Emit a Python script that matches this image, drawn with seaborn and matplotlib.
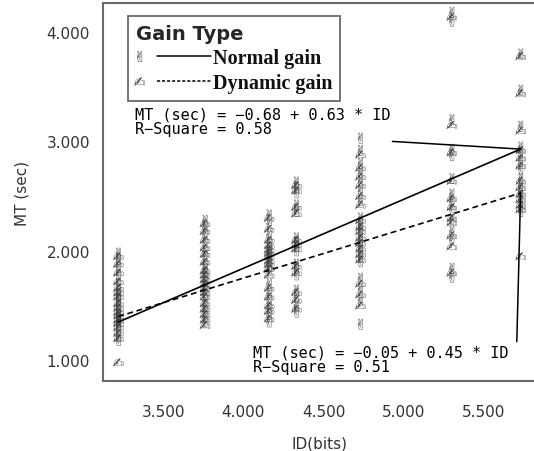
import numpy as np
import pandas as pd
import matplotlib
matplotlib.use("Agg")
import matplotlib.pyplot as plt
import seaborn as sns
from matplotlib.lines import Line2D
from matplotlib.legend_handler import HandlerBase
from matplotlib.ticker import FormatStrFormatter

# ---------------- data ----------------
id_levels = [3.22, 3.76, 4.16, 4.33, 4.73, 5.30, 5.73]

normal_mt = [
    [1.98, 1.92, 1.85, 1.78, 1.70, 1.65, 1.60, 1.57, 1.55, 1.50, 1.46, 1.42, 1.40, 1.38, 1.35, 1.32, 1.28, 1.22, 1.18],
    [2.28, 2.22, 2.15, 2.08, 2.00, 1.95, 1.88, 1.84, 1.80, 1.76, 1.72, 1.68, 1.65, 1.60, 1.55, 1.50, 1.45, 1.40, 1.35],
    [2.33, 2.25, 2.15, 2.08, 2.03, 2.00, 1.97, 1.93, 1.90, 1.86, 1.82, 1.70, 1.62, 1.55, 1.48, 1.42, 1.35],
    [2.63, 2.58, 2.53, 2.42, 2.36, 2.12, 2.08, 2.04, 2.00, 1.88, 1.84, 1.78, 1.64, 1.58, 1.50, 1.44],
    [3.03, 2.92, 2.80, 2.72, 2.64, 2.55, 2.46, 2.30, 2.25, 2.20, 2.15, 2.10, 2.05, 2.00, 1.95, 1.90, 1.75, 1.65, 1.55, 1.33],
    [4.18, 4.10, 3.20, 2.93, 2.87, 2.66, 2.52, 2.45, 2.38, 2.29, 2.18, 2.10, 1.84, 1.76],
    [3.80, 3.47, 3.14, 2.95, 2.90, 2.82, 2.75, 2.66, 2.60, 2.55, 2.50, 2.45, 2.40, 2.36],
]
dynamic_mt = [
    [1.95, 1.88, 1.80, 1.72, 1.66, 1.62, 1.58, 1.52, 1.48, 1.44, 1.41, 1.37, 1.34, 1.30, 1.25, 1.20, 0.98],
    [2.25, 2.18, 2.10, 2.03, 1.97, 1.90, 1.82, 1.78, 1.74, 1.70, 1.66, 1.62, 1.58, 1.52, 1.47, 1.42, 1.37, 1.32],
    [2.30, 2.20, 2.10, 2.05, 2.01, 1.98, 1.95, 1.91, 1.88, 1.84, 1.78, 1.66, 1.58, 1.50, 1.45, 1.38],
    [2.60, 2.55, 2.40, 2.34, 2.10, 2.06, 2.02, 1.86, 1.80, 1.62, 1.55, 1.47],
    [2.88, 2.76, 2.68, 2.60, 2.50, 2.42, 2.28, 2.22, 2.18, 2.12, 2.07, 2.02, 1.97, 1.92, 1.70, 1.60, 1.50],
    [4.14, 3.15, 2.90, 2.64, 2.48, 2.40, 2.30, 2.26, 2.14, 2.04, 1.80],
    [3.78, 3.44, 3.10, 2.92, 2.85, 2.78, 2.64, 2.58, 2.52, 2.47, 2.42, 2.38, 1.95],
]

groups = ["Normal gain", "Dynamic gain"]
fit_intercepts = [-0.68, -0.05]
fit_slopes = [0.63, 0.45]
fit_labels = ["MT (sec) = \u22120.68 + 0.63 * ID\nR\u2212Square = 0.58",
              "MT (sec) = \u22120.05 + 0.45 * ID\nR\u2212Square = 0.51"]

x_ticks = [3.5, 4.0, 4.5, 5.0, 5.5]
y_ticks = [1.0, 2.0, 3.0, 4.0]

# ---------------- build table ----------------
rows = []
for g, table in zip(groups, [normal_mt, dynamic_mt]):
    for idv, vals in zip(id_levels, table):
        for v in vals:
            rows.append({"ID": idv, "MT": v, "Gain Type": g})
df = pd.DataFrame(rows)

# ---------------- plot ----------------
sns.set_style("white")
plt.rcParams["font.family"] = ["DejaVu Sans"]

fig = plt.figure(figsize=(5.34, 4.52), dpi=100)
ax = fig.add_axes([0.193, 0.155, 0.812, 0.836])

mark_col = "#3c3c3c"
markers = {"Normal gain": "$\u270c$", "Dynamic gain": "$\u270d$"}
sns.scatterplot(data=df, x="ID", y="MT", hue="Gain Type", style="Gain Type",
                markers=markers, palette={"Normal gain": mark_col, "Dynamic gain": mark_col},
                s=60, linewidth=0, legend=False, ax=ax, zorder=2)

xfit = np.array([min(id_levels), max(id_levels)])
styles = ["-", (0, (3.5, 2.2))]
for b0, b1, ls in zip(fit_intercepts, fit_slopes, styles):
    ax.plot(xfit, b0 + b1 * xfit, color="black", lw=1.2, linestyle=ls, zorder=3)

# annotations with leader lines
x_end = max(id_levels)
n_end = fit_intercepts[0] + fit_slopes[0] * x_end
d_end = fit_intercepts[1] + fit_slopes[1] * x_end
ax.text(3.325, 3.32, fit_labels[0], ha="left", va="top", fontsize=11,
        family="DejaVu Sans Mono", linespacing=0.95, color="black")
ax.plot([4.93, x_end], [3.0, n_end], color="black", lw=1.1)
ax.text(4.06, 1.145, fit_labels[1], ha="left", va="top", fontsize=11,
        family="DejaVu Sans Mono", linespacing=0.95, color="black")
ax.plot([x_end, 5.706], [d_end, 1.17], color="black", lw=1.1)

ax.set_xlim(3.125, 5.83)
ax.set_ylim(0.81, 4.265)
ax.set_xticks(x_ticks)
ax.set_yticks(y_ticks)
ax.xaxis.set_major_formatter(FormatStrFormatter("%.3f"))
ax.yaxis.set_major_formatter(FormatStrFormatter("%.3f"))
ax.tick_params(axis="both", which="major", direction="out", length=5.5, width=2.2,
               color="black", labelsize=11, labelcolor="#333333")
ax.tick_params(axis="x", pad=11)
ax.tick_params(axis="y", pad=4)
for sp in ax.spines.values():
    sp.set_color("#6a6a6a")
    sp.set_linewidth(1.5)
ax.set_xlabel("ID(bits)", fontsize=11, color="#333333", labelpad=12)
ax.set_ylabel("MT (sec)", fontsize=11, color="#333333", labelpad=12)


class MarkerLineHandler(HandlerBase):
    def create_artists(self, legend, orig_handle, xdescent, ydescent,
                       width, height, fontsize, trans):
        mk, ls = orig_handle
        y = height / 2 - ydescent
        m = Line2D([0.04 * width - xdescent], [y], marker=mk, markersize=8,
                   color=mark_col, markeredgewidth=0, linestyle="none")
        l = Line2D([0.28 * width - xdescent, width - xdescent], [y, y],
                   color="black", lw=1.1, linestyle=ls)
        m.set_transform(trans)
        l.set_transform(trans)
        return [m, l]


handles = [(markers[g], st) for g, st in zip(groups, ["-", (0, (2.0, 1.3))])]
leg = ax.legend(handles, groups, handler_map={tuple: MarkerLineHandler()},
                loc="upper left", bbox_to_anchor=(0.058, 0.966), borderaxespad=0,
                title="Gain Type", alignment="left", frameon=True, fancybox=False,
                handlelength=3.7, handletextpad=0.1, borderpad=0.4,
                labelspacing=0.25, prop={"family": "Liberation Serif", "weight": "bold", "size": 14.5})
leg.get_title().set_fontsize(14)
leg.get_title().set_fontweight("bold")
leg.get_title().set_fontfamily("DejaVu Sans")
leg.get_frame().set_edgecolor("#444444")
leg.get_frame().set_linewidth(1.3)
for t in leg.get_texts():
    t.set_color("#111111")

fig.savefig("out.png", dpi=100)
